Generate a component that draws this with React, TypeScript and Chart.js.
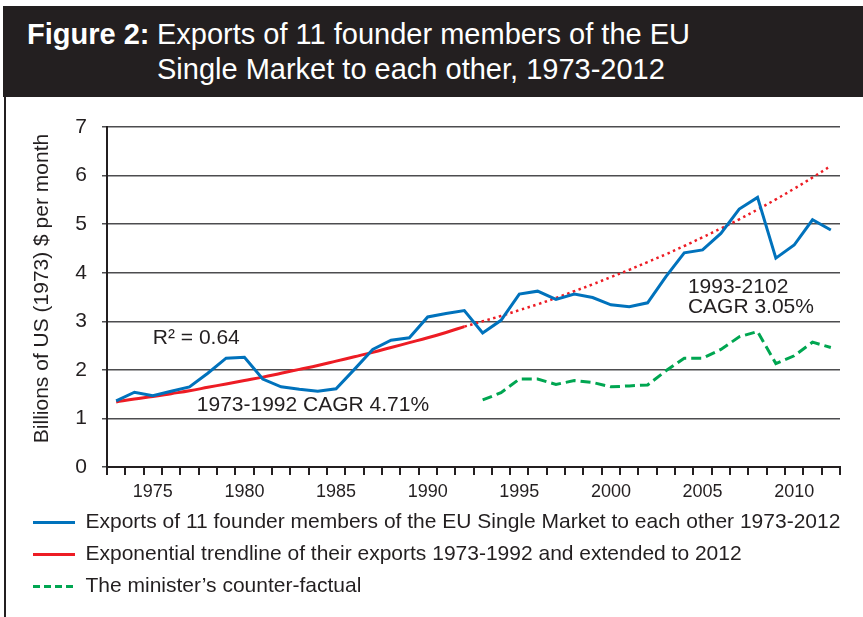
import React, { useEffect, useRef } from 'react';
import { Chart, registerables } from 'chart.js';

Chart.register(...registerables);

const FONT = '"Liberation Sans", Arial, Helvetica, sans-serif';
const TEXT = '#231f20';
const BLUE = '#0072bc';
const RED = '#ed1c24';
const GREEN = '#00a651';
const GRID = '#4d4d4f';

// Categories: years 1973-2012
const years: string[] = [
  '1973', '1974', '1975', '1976', '1977', '1978', '1979', '1980', '1981', '1982',
  '1983', '1984', '1985', '1986', '1987', '1988', '1989', '1990', '1991', '1992',
  '1993', '1994', '1995', '1996', '1997', '1998', '1999', '2000', '2001', '2002',
  '2003', '2004', '2005', '2006', '2007', '2008', '2009', '2010', '2011', '2012',
];

// Exports of 11 founder members to each other, 1973-2012 (billions of 1973 US$ per month)
const exportsValues: number[] = [
  1.36, 1.54, 1.47, 1.56, 1.65, 1.93, 2.24, 2.26, 1.81, 1.65,
  1.60, 1.56, 1.61, 2.01, 2.42, 2.61, 2.66, 3.09, 3.16, 3.22,
  2.76, 3.02, 3.56, 3.62, 3.45, 3.56, 3.49, 3.34, 3.30, 3.38,
  3.92, 4.41, 4.47, 4.81, 5.31, 5.55, 4.30, 4.57, 5.09, 4.88,
];

// Exponential trendline 1973-1992 (solid)
const trendFitted: number[] = [
  1.34, 1.40, 1.45, 1.51, 1.57, 1.64, 1.71, 1.78, 1.85, 1.93,
  2.01, 2.09, 2.18, 2.27, 2.36, 2.46, 2.56, 2.66, 2.77, 2.89,
];

// Trendline extended 1992-2012 (dotted)
const trendExtended: number[] = [
  2.89, 3.00, 3.11, 3.23, 3.35, 3.48, 3.62, 3.76, 3.91, 4.06,
  4.22, 4.38, 4.55, 4.73, 4.91, 5.10, 5.30, 5.51, 5.73, 5.96, 6.20,
];

// The minister's counter-factual 1993-2012
const counterFactual: number[] = [
  1.38, 1.53, 1.81, 1.81, 1.70, 1.78, 1.74, 1.65, 1.67, 1.69,
  1.98, 2.24, 2.24, 2.42, 2.68, 2.79, 2.13, 2.29, 2.57, 2.46,
];

const yTicks: number[] = [0, 1, 2, 3, 4, 5, 6, 7];
const labelledYears: string[] = ['1975', '1980', '1985', '1990', '1995', '2000', '2005', '2010'];

const legendLabels: string[] = [
  'Exports of 11 founder members of the EU Single Market to each other 1973-2012',
  'Exponential trendline of their exports 1973-1992 and extended to 2012',
  'The minister\u2019s counter-factual',
];

const yAxisTitle = 'Billions of US (1973) $ per month';

// Text notes, anchored in data space (year position, value)
const noteTexts: string[] = ['R\u00b2 = 0.64', '1973-1992 CAGR 4.71%', '1993-2102', 'CAGR 3.05%'];
const noteYears: number[] = [1975.0, 1977.4, 2004.2, 2004.2];
const noteValues: number[] = [2.66, 1.28, 3.71, 3.29];

const padTo = (vals: number[], start: number): (number | null)[] =>
  years.map((_, i) => (i >= start && i - start < vals.length ? vals[i - start] : null));

const notesPlugin = {
  id: 'notes',
  afterDatasetsDraw(chart: any) {
    const { ctx, chartArea } = chart;
    const x = chart.scales.x;
    const y = chart.scales.y;
    ctx.save();
    ctx.fillStyle = TEXT;
    ctx.font = `21px ${FONT}`;
    ctx.textBaseline = 'middle';
    ctx.textAlign = 'left';
    noteTexts.forEach((t, i) => {
      const px = x.getPixelForValue(noteYears[i] - Number(years[0]));
      const py = y.getPixelForValue(noteValues[i]);
      ctx.fillText(t, px, py);
    });
    // y-axis title
    ctx.translate(chartArea.left - 65, (chartArea.top + chartArea.bottom) / 2 - 8.5);
    ctx.rotate(-Math.PI / 2);
    ctx.textAlign = 'center';
    ctx.fillText(yAxisTitle, 0, 0);
    ctx.restore();
  },
};

export default function App() {
  const ref = useRef<HTMLCanvasElement>(null);

  useEffect(() => {
    if (!ref.current) return;
    const chart = new Chart(ref.current, {
      type: 'line',
      data: {
        labels: years,
        datasets: [
          {
            label: legendLabels[0],
            data: exportsValues,
            borderColor: BLUE,
            backgroundColor: BLUE,
            borderWidth: 3,
            pointRadius: 0,
            tension: 0,
          },
          {
            label: legendLabels[1],
            data: padTo(trendFitted, 0),
            borderColor: RED,
            backgroundColor: RED,
            borderWidth: 3,
            pointRadius: 0,
            tension: 0.4,
          },
          {
            label: 'extension',
            data: padTo(trendExtended, 19),
            borderColor: RED,
            backgroundColor: RED,
            borderWidth: 2.5,
            borderDash: [2.5, 3.5],
            pointRadius: 0,
            tension: 0.4,
          },
          {
            label: legendLabels[2],
            data: padTo(counterFactual, 20),
            borderColor: GREEN,
            backgroundColor: GREEN,
            borderWidth: 3,
            borderDash: [10, 5],
            pointRadius: 0,
            tension: 0,
          },
        ],
      },
      options: {
        responsive: false,
        animation: false,
        layout: { padding: { left: 16, right: 23, top: 30, bottom: 10 } },
        plugins: {
          tooltip: { enabled: false },
          title: { display: false },
          legend: {
            position: 'bottom',
            align: 'start',
            labels: {
              usePointStyle: true,
              pointStyle: 'line',
              pointStyleWidth: 42,
              padding: 11,
              color: TEXT,
              font: { family: FONT, size: 21 },
              filter: (item: any) => item.datasetIndex !== 2,
              generateLabels: (c: any) =>
                Chart.defaults.plugins.legend.labels
                  .generateLabels(c)
                  .map((it: any) => (it.datasetIndex === 3 ? { ...it, lineDash: [7, 4] } : it)),
            },
          },
        },
        scales: {
          x: {
            type: 'category',
            offset: true,
            afterFit: (s: any) => {
              s.height = 34;
            },
            border: { display: true, color: TEXT, width: 2 },
            grid: {
              offset: true,
              drawOnChartArea: false,
              drawTicks: true,
              tickLength: 8,
              color: TEXT,
              lineWidth: 2,
            },
            ticks: {
              autoSkip: false,
              maxRotation: 0,
              padding: 6,
              color: TEXT,
              font: { family: FONT, size: 18 },
              callback: (_v: any, i: number) => (labelledYears.includes(years[i]) ? years[i] : ''),
            },
          },
          y: {
            min: yTicks[0],
            max: yTicks[yTicks.length - 1],
            afterFit: (s: any) => {
              s.width = 85;
            },
            afterBuildTicks: (s: any) => {
              s.ticks = yTicks.map((v) => ({ value: v }));
            },
            border: { display: true, color: TEXT, width: 2 },
            grid: {
              color: GRID,
              lineWidth: 1.5,
              tickLength: 5,
              drawTicks: true,
            },
            ticks: {
              padding: 15,
              color: TEXT,
              font: { family: FONT, size: 21 },
            },
          },
        },
      },
      plugins: [notesPlugin],
    } as any);
    return () => chart.destroy();
  }, []);

  return (
    <div
      style={{
        position: 'absolute',
        left: 0,
        top: 0,
        width: 863,
        height: 617,
        background: '#fff',
        overflow: 'hidden',
      }}
    >
      <div
        style={{
          position: 'absolute',
          left: 3,
          top: 6,
          width: 860,
          height: 91,
          background: TEXT,
          color: '#fff',
          fontFamily: FONT,
          fontSize: 29,
          lineHeight: '35px',
          whiteSpace: 'nowrap',
        }}
      >
        <div style={{ position: 'absolute', left: 24, top: 11, fontWeight: 'bold' }}>Figure 2:</div>
        <div style={{ position: 'absolute', left: 154, top: 11 }}>
          <div>Exports of 11 founder members of the EU</div>
          <div>Single Market to each other, 1973-2012</div>
        </div>
      </div>
      <div style={{ position: 'absolute', left: 4, top: 97, width: 2, height: 520, background: TEXT }} />
      <canvas ref={ref} width={857} height={520} style={{ position: 'absolute', left: 6, top: 97 }} />
    </div>
  );
}
